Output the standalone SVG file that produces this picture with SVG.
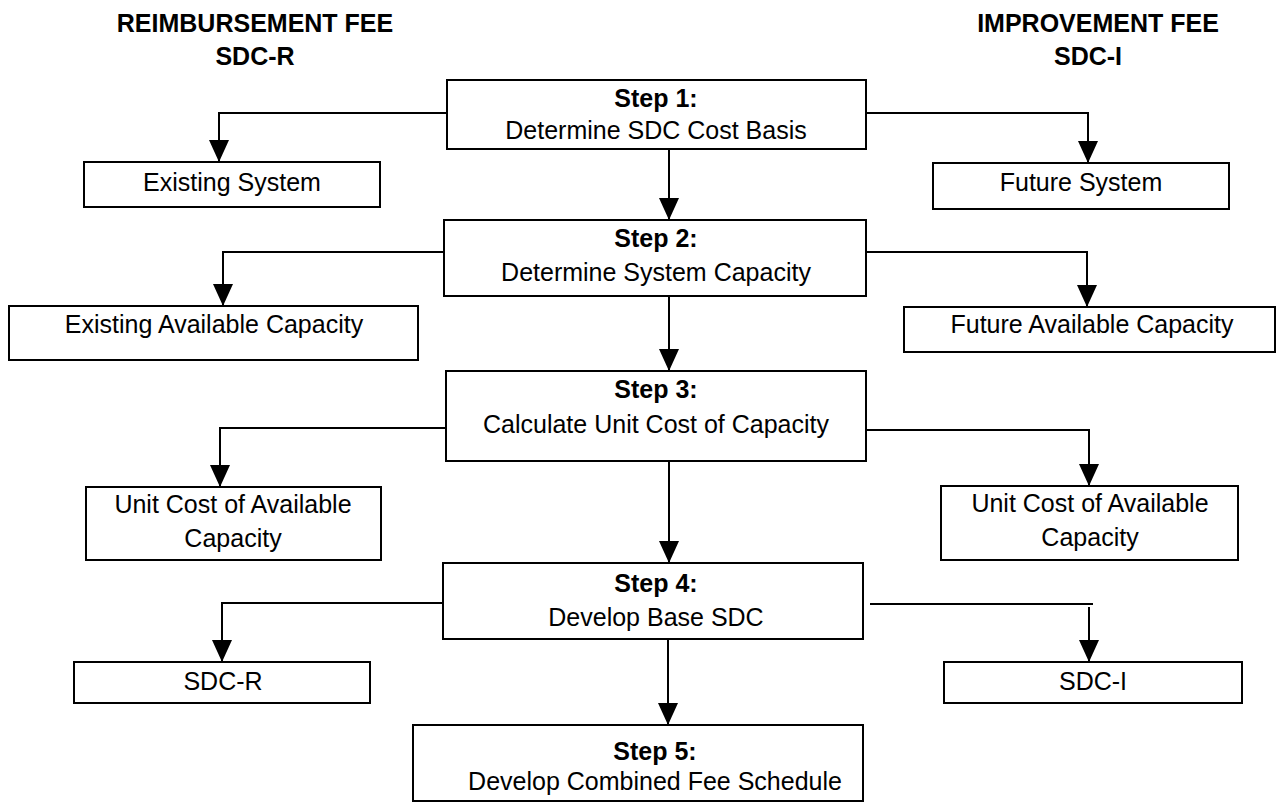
<svg xmlns="http://www.w3.org/2000/svg" width="1277" height="803" viewBox="0 0 1277 803">
<defs>
<marker id="arr" markerUnits="userSpaceOnUse" markerWidth="22" markerHeight="20" refX="22" refY="10" orient="auto" viewBox="0 0 22 20">
<path d="M0,0 L22,10 L0,20 z" fill="#000"/>
</marker>
<style>
.box{fill:#fff;stroke:#000;stroke-width:2}
.t{font-family:"Liberation Sans",Arial,sans-serif;font-size:25px;fill:#000;text-anchor:middle}
.b{font-weight:bold}
.ln{fill:none;stroke:#000;stroke-width:2}
</style>
</defs>
<rect width="1277" height="803" fill="#fff"/>
<g id="headers">
<text class="t b" x="255" y="32">REIMBURSEMENT FEE</text>
<text class="t b" x="255" y="65">SDC-R</text>
<text class="t b" x="1098" y="32">IMPROVEMENT FEE</text>
<text class="t b" x="1088" y="65">SDC-I</text>
</g>
<g id="connectors">
<path class="ln" d="M447,113 H219 V162" marker-end="url(#arr)"/>
<path class="ln" d="M866,113 H1088 V163" marker-end="url(#arr)"/>
<path class="ln" d="M669,149 V220" marker-end="url(#arr)"/>
<path class="ln" d="M444,252 H223 V306" marker-end="url(#arr)"/>
<path class="ln" d="M866,252 H1087 V307" marker-end="url(#arr)"/>
<path class="ln" d="M669,296 V371" marker-end="url(#arr)"/>
<path class="ln" d="M446,428 H220 V487" marker-end="url(#arr)"/>
<path class="ln" d="M866,430 H1089 V486" marker-end="url(#arr)"/>
<path class="ln" d="M669,461 V563" marker-end="url(#arr)"/>
<path class="ln" d="M443,603 H222 V662" marker-end="url(#arr)"/>
<path class="ln" d="M870,604 H1093"/>
<path class="ln" d="M1089,607 V662" marker-end="url(#arr)"/>
<path class="ln" d="M668,639 V725" marker-end="url(#arr)"/>
</g>
<g id="step1">
<rect class="box" x="447" y="80" width="419" height="69"/>
<text class="t b" x="656" y="107">Step 1:</text>
<text class="t" x="656" y="139">Determine SDC Cost Basis</text>
</g>
<g id="existing-system">
<rect class="box" x="84" y="162" width="296" height="45"/>
<text class="t" x="232" y="191">Existing System</text>
</g>
<g id="future-system">
<rect class="box" x="933" y="163" width="296" height="46"/>
<text class="t" x="1081" y="191">Future System</text>
</g>
<g id="step2">
<rect class="box" x="444" y="220" width="422" height="76"/>
<text class="t b" x="656" y="247">Step 2:</text>
<text class="t" x="656" y="281">Determine System Capacity</text>
</g>
<g id="existing-capacity">
<rect class="box" x="9" y="306" width="409" height="54"/>
<text class="t" x="214" y="333">Existing Available Capacity</text>
</g>
<g id="future-capacity">
<rect class="box" x="904" y="307" width="371" height="45"/>
<text class="t" x="1092" y="333">Future Available Capacity</text>
</g>
<g id="step3">
<rect class="box" x="446" y="371" width="420" height="90"/>
<text class="t b" x="656" y="398">Step 3:</text>
<text class="t" x="656" y="433">Calculate Unit Cost of Capacity</text>
</g>
<g id="unit-cost-left">
<rect class="box" x="86" y="487" width="295" height="73"/>
<text class="t" x="233" y="513">Unit Cost of Available</text>
<text class="t" x="233" y="547">Capacity</text>
</g>
<g id="unit-cost-right">
<rect class="box" x="941" y="486" width="297" height="74"/>
<text class="t" x="1090" y="512">Unit Cost of Available</text>
<text class="t" x="1090" y="546">Capacity</text>
</g>
<g id="step4">
<rect class="box" x="443" y="563" width="420" height="76"/>
<text class="t b" x="656" y="592">Step 4:</text>
<text class="t" x="656" y="626">Develop Base SDC</text>
</g>
<g id="sdc-r">
<rect class="box" x="74" y="662" width="296" height="41"/>
<text class="t" x="223" y="690">SDC-R</text>
</g>
<g id="sdc-i">
<rect class="box" x="944" y="662" width="298" height="41"/>
<text class="t" x="1093" y="690">SDC-I</text>
</g>
<g id="step5">
<rect class="box" x="413" y="725" width="450" height="76"/>
<text class="t b" x="655" y="760">Step 5:</text>
<text class="t" x="655" y="790">Develop Combined Fee Schedule</text>
</g>
</svg>
